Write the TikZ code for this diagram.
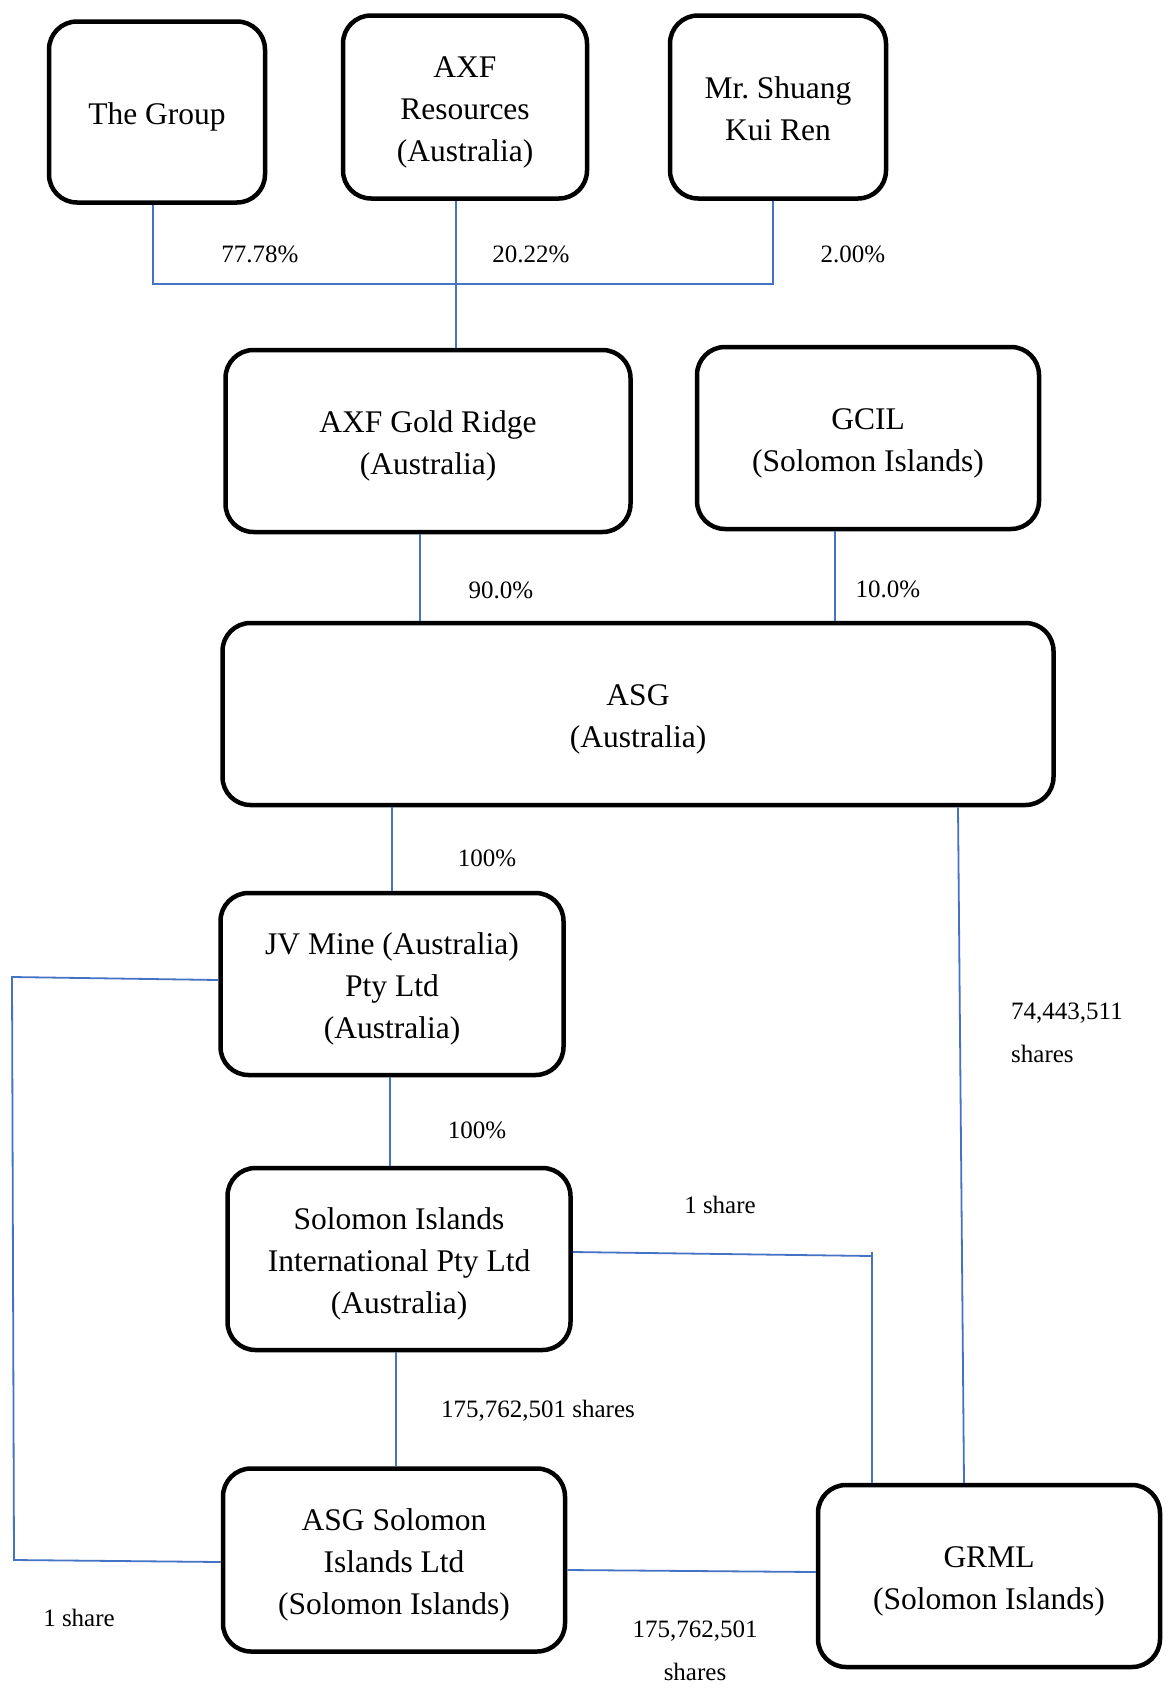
\documentclass[tikz,border=0pt]{standalone}
\usepackage{fontspec}
\setmainfont{Liberation Serif}
\definecolor{lnblue}{RGB}{68,114,196}
\begin{document}
\begin{tikzpicture}[x=1pt,y=-1pt,
  box/.style={draw=black, line width=4.5pt, rounded corners=28pt, align=center,
    font=\fontsize{31.5}{42}\selectfont, inner sep=0pt},
  one/.style={execute at begin node={\rule{0pt}{31pt}}},
  two/.style={execute at begin node={\rule{0pt}{73pt}}},
  twob/.style={execute at begin node={\rule{0pt}{67pt}}},
  three/.style={execute at begin node={\rule{0pt}{115pt}}},
  lbl/.style={font=\fontsize{25}{42}\selectfont, inner sep=0pt, align=left},
  conn/.style={draw=lnblue, line width=1.8pt}]
\useasboundingbox (0,0) rectangle (1169,1697);
% boxes
\node[box, one, minimum width=216pt, minimum height=181pt] (grp) at (157,112) {The Group};
\node[box, three, minimum width=244pt, minimum height=183pt] (axf) at (465,107) {AXF\\Resources\\(Australia)};
\node[box, twob, minimum width=216pt, minimum height=183pt] (msk) at (778,107) {Mr.\ Shuang\\Kui Ren};
\node[box, two, minimum width=405pt, minimum height=182pt] (agr) at (428,441) {AXF Gold Ridge\\(Australia)};
\node[box, two, minimum width=342pt, minimum height=182pt] (gcil) at (868,438) {GCIL\\(Solomon Islands)};
\node[box, two, minimum width=831pt, minimum height=182pt] (asg) at (638,714) {ASG\\(Australia)};
\node[box, three, minimum width=343pt, minimum height=182pt] (jv) at (392,984) {JV Mine (Australia)\\Pty Ltd\\(Australia)};
\node[box, three, minimum width=343pt, minimum height=182pt] (sii) at (399,1259) {Solomon Islands\\International Pty Ltd\\(Australia)};
\node[box, three, minimum width=342pt, minimum height=183pt] (asgs) at (394,1560) {ASG Solomon\\Islands Ltd\\(Solomon Islands)};
\node[box, two, minimum width=342pt, minimum height=182pt] (grml) at (989,1576) {GRML\\(Solomon Islands)};
% junction coordinates
\coordinate (jA) at (153,284);
\coordinate (jB) at (773,284);
\coordinate (jC) at (12,977);
\coordinate (jD) at (14,1560);
\coordinate (jE) at (872,1256);
\coordinate (jEt) at (872,1252);
% connectors
\draw[conn] (grp.south -| jA) -- (jA) -- (jB) -- (msk.south -| jB);
\draw[conn] (axf.south -| 456,0) -- (agr.north -| 456,0);
\draw[conn] (agr.south -| 420,0) -- (asg.north -| 420,0);
\draw[conn] (gcil.south -| 835,0) -- (asg.north -| 835,0);
\draw[conn] (asg.south -| 392,0) -- (jv.north -| 392,0);
\draw[conn] (jv.south -| 390,0) -- (sii.north -| 390,0);
\draw[conn] (sii.south -| 396,0) -- (asgs.north -| 396,0);
\draw[conn] (jv.west |- 0,980) -- (jC) -- (jD) -- (asgs.west |- 0,1562);
\draw[conn] (sii.east |- 0,1252) -- (jE);
\draw[conn] (jEt) -- (grml.north -| jE);
\draw[conn] (asg.south -| 958,0) -- (grml.north -| 964,0);
\draw[conn] (asgs.east |- 0,1570) -- (grml.west |- 0,1572);
% labels
\node[lbl] (l1) at (260,254) {77.78\%};
\node[lbl] (l2) at (531,254) {20.22\%};
\node[lbl] (l3) at (853,254) {2.00\%};
\node[lbl] (l4) at (501,590) {90.0\%};
\node[lbl] (l5) at (888,589) {10.0\%};
\node[lbl] (l6) at (487,858) {100\%};
\node[lbl] (l7) at (477,1130) {100\%};
\node[lbl] (l8) at (538,1411) {175,762,501 shares};
\node[lbl] (l9) at (720,1205) {1 share};
\node[lbl, anchor=west] (l10) at (1011,1013) {74,443,511};
\node[lbl, anchor=west] (l11) at (1011,1054) {shares};
\node[lbl] (l12) at (79,1618) {1 share};
\node[lbl] (l13) at (695,1631) {175,762,501};
\node[lbl] (l14) at (695,1672) {shares};
\end{tikzpicture}
\end{document}
